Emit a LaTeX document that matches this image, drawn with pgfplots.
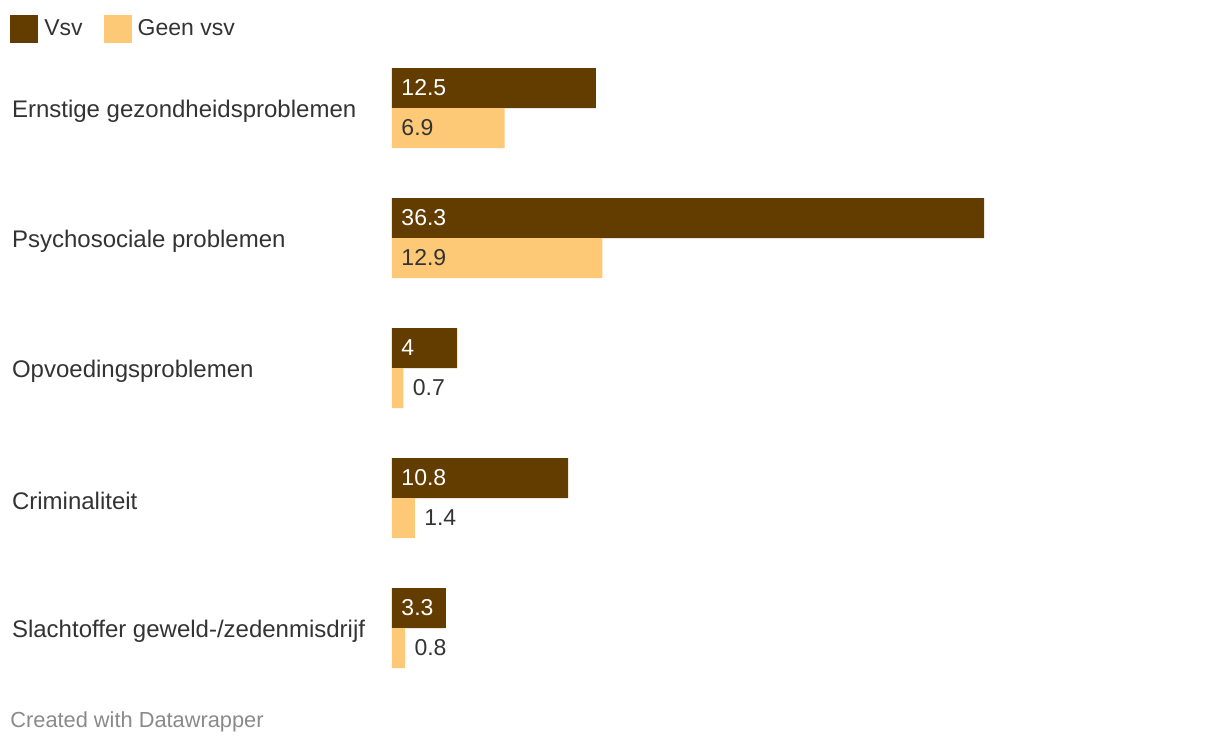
\documentclass[border=0pt]{standalone}
\usepackage{pgfplots}
\pgfplotsset{compat=1.18}
\usepackage{pgfplotstable}
\usepackage{fontspec}
\setmainfont{Liberation Sans}
\definecolor{vsv}{HTML}{633C00}
\definecolor{geen}{HTML}{FEC977}
\definecolor{txt}{HTML}{333333}
\definecolor{foot}{HTML}{8A8A8A}
\pgfplotstableread{
y vsv geen
4 12.5 6.9
3 36.3 12.9
2 4.0 0.7
1 10.8 1.4
0 3.3 0.8
}\data
% labels: x y label
\pgfplotstableread{
x y lab
0 4 12.5
0 3 36.3
0 2 4
0 1 10.8
0 0 3.3
}\vsvlab
\pgfplotstableread{
x y lab
0 4 6.9
0 3 12.9
}\geeninlab
\pgfplotstableread{
x y lab
0.7 2 0.7
1.4 1 1.4
0.8 0 0.8
}\geenoutlab
\begin{document}
\begin{tikzpicture}
\begin{axis}[
  scale only axis,
  width=296pt, height=325pt,
  xmin=0, xmax=36.3,
  ymin=-0.5, ymax=4.5,
  hide x axis,
  axis line style={draw=none},
  ytick={0,1,2,3,4},
  yticklabels={Slachtoffer geweld-/zedenmisdrijf,Criminaliteit,Opvoedingsproblemen,Psychosociale problemen,Ernstige gezondheidsproblemen},
  major tick length=0pt,
  yticklabel style={font=\fontsize{12}{14}\selectfont, text=txt, anchor=west, xshift=-193.5pt, yshift=-1.5pt},
  legend style={at={(0,1)}, anchor=north west, xshift=-191pt, yshift=14pt, draw=none, fill=none, inner sep=0pt, legend columns=2, font=\fontsize{11.5}{13}\selectfont, text=txt,
    /tikz/every even column/.append style={column sep=8.5pt}},
  legend image code/.code={\fill[#1] (0pt,-7pt) rectangle (14pt,7pt); \path (15pt,0pt);},
  clip=false,
]
\addplot[xbar, bar width=20pt, fill=vsv, draw=none, bar shift=10pt] table[x=vsv, y=y] {\data};
\addlegendentry{Vsv}
\addplot[xbar, bar width=20pt, fill=geen, draw=none, bar shift=-10pt] table[x=geen, y=y] {\data};
\addlegendentry{Geen vsv}
\addplot[only marks, mark=none, forget plot, point meta=explicit symbolic,
  nodes near coords, every node near coord/.append style={anchor=west, xshift=1.2pt, yshift=10pt, text=white, font=\fontsize{11.5}{13}\selectfont}]
  table[x=x, y=y, meta=lab] {\vsvlab};
\addplot[only marks, mark=none, forget plot, point meta=explicit symbolic,
  nodes near coords, every node near coord/.append style={anchor=west, xshift=1.2pt, yshift=-10pt, text=txt, font=\fontsize{11.5}{13}\selectfont}]
  table[x=x, y=y, meta=lab] {\geeninlab};
\addplot[only marks, mark=none, forget plot, point meta=explicit symbolic,
  nodes near coords, every node near coord/.append style={anchor=west, xshift=1.2pt, yshift=-10pt, text=txt, font=\fontsize{11.5}{13}\selectfont}]
  table[x=x, y=y, meta=lab] {\geenoutlab};
\coordinate (O) at (rel axis cs:0,0);
\end{axis}
\node[anchor=west, inner sep=0pt, text=foot, font=\fontsize{10.9}{12}\selectfont] at ([shift={(-191pt,-14.5pt)}]O) {Created with Datawrapper};
\pgfresetboundingbox
\path ([shift={(-196pt,-26.5pt)}]O) rectangle ([shift={(414pt,346.5pt)}]O);
\end{tikzpicture}
\end{document}
